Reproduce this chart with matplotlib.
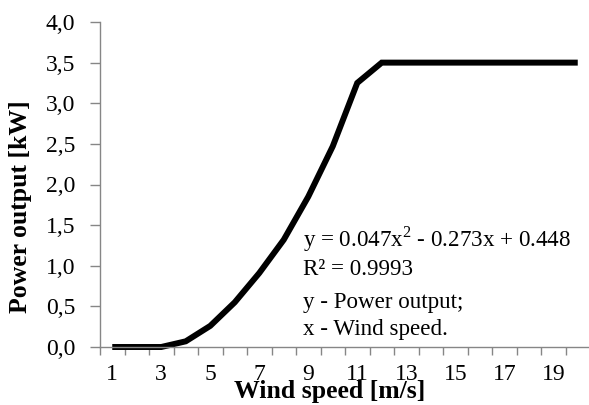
import numpy as np
import matplotlib
matplotlib.use("Agg")
import matplotlib.pyplot as plt

wind_speed = [1, 2, 3, 4, 5, 6, 7, 8, 9, 10, 11, 12, 13, 14, 15, 16, 17, 18, 19, 20]
power_output = [0.0, 0.0, 0.0, 0.07, 0.26, 0.55, 0.91, 1.32, 1.85, 2.47, 3.25, 3.5,
                3.5, 3.5, 3.5, 3.5, 3.5, 3.5, 3.5, 3.5]
x_tick_labels = ["1", "3", "5", "7", "9", "11", "13", "15", "17", "19"]
y_ticks = [0.0, 0.5, 1.0, 1.5, 2.0, 2.5, 3.0, 3.5, 4.0]
annotation_lines = ["y = 0.047x$^2$ - 0.273x + 0.448", "R² = 0.9993",
                    "y - Power output;", "x - Wind speed."]

plt.rcParams['font.family'] = ['Liberation Serif', 'DejaVu Serif']
plt.rcParams['mathtext.fontset'] = 'custom'
plt.rcParams['mathtext.rm'] = 'Liberation Serif'

W, H = 589, 405
fig = plt.figure(figsize=(W / 100, H / 100), dpi=100)
ax = fig.add_axes([100 / W, (H - 347) / H, 490 / W, 325 / H])

ax.plot(wind_speed, power_output, color='black', lw=4.3, solid_capstyle='butt',
        solid_joinstyle='miter', clip_on=False)

ax.set_xlim(0.5, 20.5)
ax.set_ylim(0, 4.0)

grey = '#868686'
for s in ['top', 'right']:
    ax.spines[s].set_visible(False)
for s in ['left', 'bottom']:
    ax.spines[s].set_color(grey)
    ax.spines[s].set_linewidth(1.0)

# y ticks
ax.set_yticks(y_ticks)
ax.set_yticklabels([f"{v:.1f}".replace('.', ',') for v in y_ticks])
ax.tick_params(axis='y', direction='out', length=7.2, width=1.0, color=grey,
               labelsize=17, pad=10.5)

# x ticks: boundaries as major ticks, labels on odd categories as minor
ax.set_xticks(np.arange(0.5, 21, 1.0))
ax.set_xticklabels([])
ax.tick_params(axis='x', which='major', direction='out', length=5.8, width=1.0, color=grey)
odd = [int(t) for t in x_tick_labels]
ax.set_xticks(odd, minor=True)
ax.set_xticklabels(x_tick_labels, minor=True)
ax.tick_params(axis='x', which='minor', length=0, labelsize=17, pad=12)

# axis titles
fig.text(330 / W, 1 - 398 / H, "Wind speed [m/s]", ha='center', va='baseline',
         fontsize=18.5, fontweight='bold')
fig.text(21 / W, 1 - 207 / H, "Power output [kW]", ha='center', va='center',
         rotation=90, fontsize=18.5, fontweight='bold')

# annotation
baselines = [247, 275, 308, 335]
for txt, b in zip(annotation_lines, baselines):
    fig.text(303 / W, 1 - b / H, txt, ha='left', va='baseline', fontsize=16.6)

fig.savefig("out.png", dpi=100)
